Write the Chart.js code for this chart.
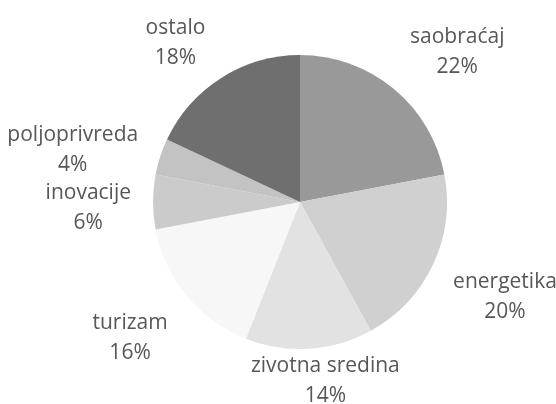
<!DOCTYPE html>
<html>
<head>
<meta charset="utf-8">
<script src="https://cdn.jsdelivr.net/npm/chart.js@4/dist/chart.umd.min.js"></script>
<style>
  body { margin: 0; background: #ffffff; }
  #wrap { width: 556px; height: 404px; position: relative; }
</style>
</head>
<body>
<div id="wrap"><canvas id="pie"></canvas></div>
<script>
// shares by sector, clockwise from 12 o'clock
var sectors = ["saobraćaj", "energetika", "zivotna sredina", "turizam", "inovacije", "poljoprivreda", "ostalo"];
var shares = [22, 20, 14, 16, 6, 4, 18];
var sliceColors = ["#999999", "#d0d0d0", "#e2e2e2", "#f7f7f7", "#cbcbcb", "#c3c3c3", "#6f6f6f"];

// labels drawn outside each slice, "name" over "xx%"
const outsideLabels = {
  id: "outsideLabels",
  afterDatasetsDraw(chart, args, opts) {
    const ctx = chart.ctx;
    const meta = chart.getDatasetMeta(0);
    const total = shares.reduce((a, b) => a + b, 0);
    const lineH = opts.lineHeight;
    ctx.save();
    ctx.font = opts.font;
    ctx.fillStyle = opts.color;
    ctx.textAlign = "center";
    ctx.textBaseline = "middle";
    meta.data.forEach((arc, i) => {
      const p = arc.getProps(["x", "y", "startAngle", "endAngle", "outerRadius"], true);
      const mid = (p.startAngle + p.endAngle) / 2;
      const cx = Math.cos(mid), cy = Math.sin(mid);
      const line1 = sectors[i];
      const line2 = Math.round(shares[i] / total * 100) + "%";
      const w = Math.max(ctx.measureText(line1).width, ctx.measureText(line2).width);
      const h = lineH * 2;
      const ex = Math.abs(cx) > 1e-6 ? (w / 2) / Math.abs(cx) : Infinity;
      const ey = Math.abs(cy) > 1e-6 ? (h / 2) / Math.abs(cy) : Infinity;
      const d = p.outerRadius + opts.gap + Math.min(ex, ey);
      // excel moved some labels a bit off the radial line
      const n = opts.nudge[i] || [0, 0];
      const lx = p.x + cx * d + n[0];
      const ly = p.y + cy * d + n[1];
      ctx.fillText(line1, lx, ly - lineH / 2);
      ctx.fillText(line2, lx, ly + lineH / 2);
    });
    ctx.restore();
  }
};

const data_pie = {
  labels: sectors,
  datasets: [
    {
      data: shares,
      backgroundColor: sliceColors,
      borderWidth: 0,
    },
  ],
};

const config_pie = {
  type: "pie",
  data: data_pie,
  options: {
    responsive: true,
    maintainAspectRatio: false,
    animation: false,
    layout: {
      padding: { top: 55, bottom: 55, left: 153, right: 109 },
    },
    plugins: {
      legend: { display: false },
      tooltip: { enabled: false },
      outsideLabels: {
        font: '21px "Open Sans"',
        color: "#575757",
        lineHeight: 30,
        gap: 20,
        nudge: [[26, 9], [2, 0], [13, -18], [-5, 0], [-2, 6], [-3, 21], [-16, 12]],
      },
    },
  },
  plugins: [outsideLabels],
};

const pie = new Chart(document.getElementById("pie"), config_pie);
</script>
</body>
</html>
